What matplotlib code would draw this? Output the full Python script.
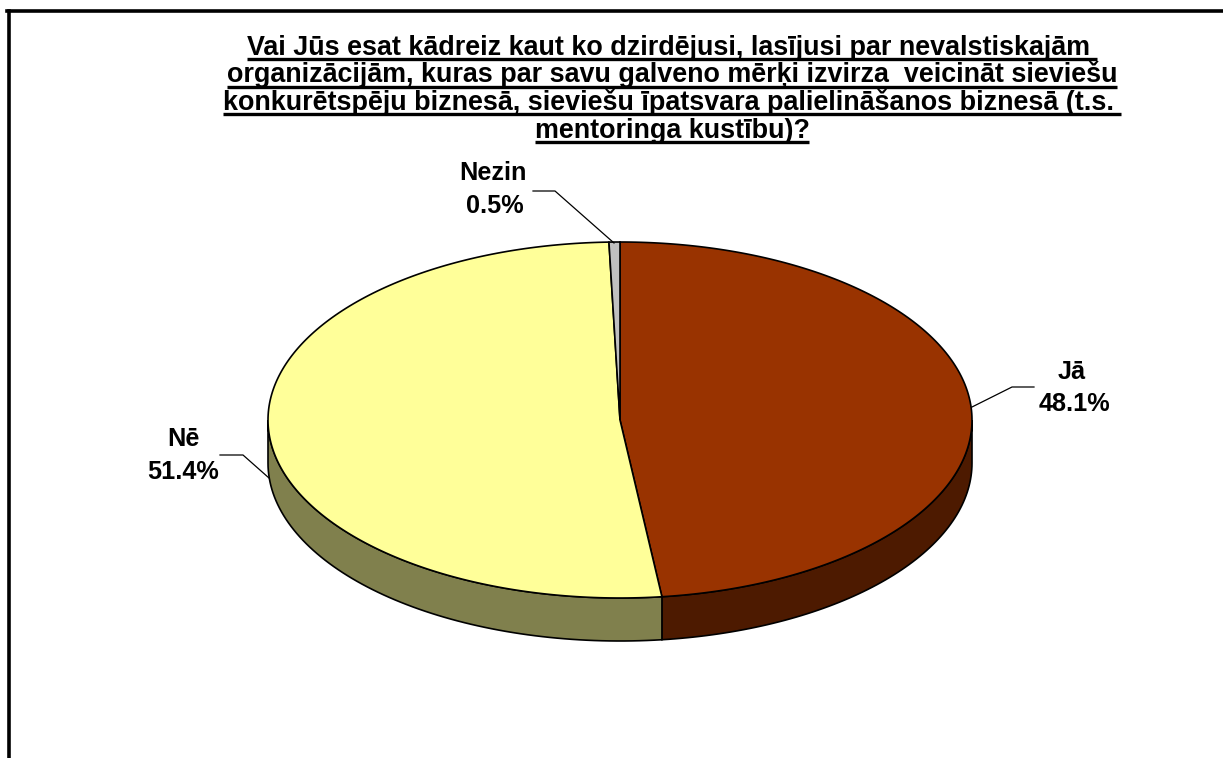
import numpy as np
import matplotlib
matplotlib.use("Agg")
import matplotlib.pyplot as plt
from matplotlib.patches import Polygon
from matplotlib.lines import Line2D

# ---- data ----
categories = ["Jā", "Nē", "Nezin"]
values = [48.1, 51.4, 0.5]
pct_labels = ["48.1%", "51.4%", "0.5%"]
top_colors = ["#993300", "#FFFF99", "#C0C0C0"]
side_colors = ["#4D1A00", "#80804D", "#606060"]
title_lines = [
    "Vai Jūs esat kādreiz kaut ko dzirdējusi, lasījusi par nevalstiskajām ",
    "organizācijām, kuras par savu galveno mērķi izvirza  veicināt sieviešu",
    "konkurētspēju biznesā, sieviešu īpatsvara palielināšanos biznesā (t.s. ",
    "mentoringa kustību)?",
]

W, H = 1223, 758
fig = plt.figure(figsize=(W / 100, H / 100), dpi=100)
ax = fig.add_axes([0, 0, 1, 1])
ax.set_xlim(0, W)
ax.set_ylim(H, 0)
ax.axis("off")

FONT = "Liberation Sans"

# ---- 3D pie geometry (pixel layout) ----
cx, cy, rx, ry, depth = 620, 420, 352, 178, 43

def pt(theta_deg, dy=0.0):
    t = np.radians(theta_deg)
    return cx + rx * np.cos(t), cy - ry * np.sin(t) + dy

total = sum(values)
angles = []
start = 90.0
for v in values:
    sweep = 360.0 * v / total
    angles.append((start, start - sweep))
    start -= sweep

# sides (front half: angles between -180 and 0)
for (a0, a1), sc in zip(angles, side_colors):
    lo, hi = a1, a0
    for off in (0, -360, 360):
        s_lo = max(lo + off, -180)
        s_hi = min(hi + off, 0)
        if s_hi > s_lo:
            ts = np.linspace(s_hi, s_lo, 80)
            top = [pt(t) for t in ts]
            bot = [pt(t, depth) for t in ts[::-1]]
            ax.add_patch(Polygon(top + bot, closed=True, facecolor=sc,
                                 edgecolor="black", linewidth=1.2, zorder=2))

# top faces
for (a0, a1), tc in zip(angles, top_colors):
    ts = np.linspace(a0, a1, 200)
    poly = [(cx, cy)] + [pt(t) for t in ts]
    ax.add_patch(Polygon(poly, closed=True, facecolor=tc,
                         edgecolor="black", linewidth=1.2, zorder=3))

# ---- labels with leader lines ----
label_specs = {
    "Jā": dict(line=[(972, 407), (1012, 387), (1034, 387)], name=(1072, 372), pct=(1074, 404)),
    "Nē": dict(line=[(269, 478), (243, 455), (220, 455)], name=(183, 439), pct=(183, 472)),
    "Nezin": dict(line=[(614, 243), (555, 191), (533, 191)], name=(493, 173), pct=(495, 206)),
}
for cat, pl in zip(categories, pct_labels):
    spec = label_specs[cat]
    xs, ys = zip(*spec["line"])
    ax.plot(xs, ys, color="black", linewidth=0.9, zorder=4)
    ax.text(*spec["name"], cat, ha="center", va="center", fontsize=18.2,
            fontweight="bold", family=FONT, zorder=5)
    ax.text(*spec["pct"], pl, ha="center", va="center", fontsize=18.2,
            fontweight="bold", family=FONT, zorder=5)

# ---- title with underline ----
fig.canvas.draw()
renderer = fig.canvas.get_renderer()
title_x = 672
baselines = [55, 82.5, 110, 137.5]
for line, yb in zip(title_lines, baselines):
    t = ax.text(title_x, yb, line, ha="center", va="baseline", fontsize=19.4,
                fontweight="bold", family=FONT, zorder=5)
    bb = t.get_window_extent(renderer=renderer)
    ax.plot([bb.x0, bb.x1], [yb + 4, yb + 4], color="black", linewidth=2.4,
            solid_capstyle="butt", zorder=5)

# ---- frame (top and left borders) ----
fig.add_artist(Line2D([7 / W, 1], [1 - 11 / H, 1 - 11 / H], color="black",
                      linewidth=2.6, transform=fig.transFigure))
fig.add_artist(Line2D([8.5 / W, 8.5 / W], [0, 1 - 11 / H], color="black",
                      linewidth=2.6, transform=fig.transFigure))

fig.savefig("out.png", dpi=100, facecolor="white")
